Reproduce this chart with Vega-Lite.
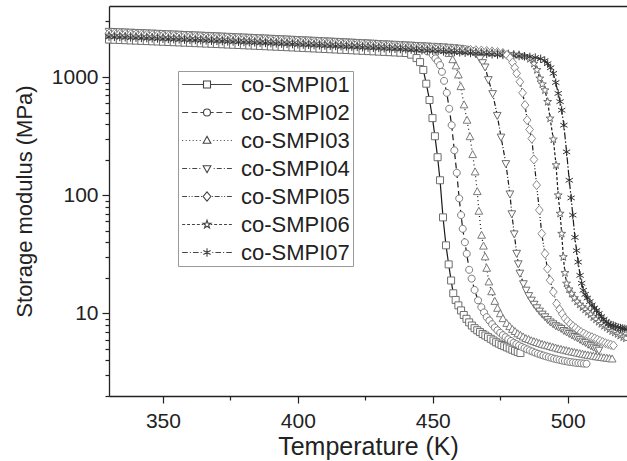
{
"$schema":"https://vega.github.io/schema/vega-lite/v6.json",
"width":518,"height":390,
"autosize":{"type":"none"},
"padding":{"left":109,"top":6,"right":0,"bottom":65},
"config":{"font":"Liberation Sans","view":{"stroke":null},"axis":{"grid":false}},
"datasets":{
"names":[{"k":"a","name":"co-SMPI01"},{"k":"b","name":"co-SMPI02"},{"k":"c","name":"co-SMPI03"},{"k":"d","name":"co-SMPI04"},{"k":"e","name":"co-SMPI05"},{"k":"f","name":"co-SMPI06"},{"k":"g","name":"co-SMPI07"}],
"dma":[
{"t":330,"a":2080,"b":2300,"c":2400,"d":2450,"e":2350,"f":2250,"g":2200},
{"t":332,"a":2071,"b":2291,"c":2390,"d":2440,"e":2340,"f":2241,"g":2191},
{"t":334,"a":2063,"b":2281,"c":2380,"d":2429,"e":2331,"f":2232,"g":2183},
{"t":336,"a":2054,"b":2272,"c":2370,"d":2419,"e":2321,"f":2223,"g":2174},
{"t":338,"a":2045,"b":2262,"c":2360,"d":2409,"e":2311,"f":2214,"g":2165},
{"t":340,"a":2036,"b":2253,"c":2350,"d":2398,"e":2302,"f":2206,"g":2156},
{"t":342,"a":2028,"b":2243,"c":2340,"d":2388,"e":2292,"f":2197,"g":2148},
{"t":344,"a":2019,"b":2234,"c":2330,"d":2377,"e":2283,"f":2188,"g":2139},
{"t":346,"a":2010,"b":2224,"c":2320,"d":2367,"e":2273,"f":2179,"g":2130},
{"t":348,"a":2002,"b":2215,"c":2310,"d":2357,"e":2263,"f":2170,"g":2122},
{"t":350,"a":1993,"b":2205,"c":2300,"d":2346,"e":2254,"f":2161,"g":2113},
{"t":352,"a":1984,"b":2196,"c":2290,"d":2336,"e":2244,"f":2152,"g":2104},
{"t":354,"a":1975,"b":2186,"c":2280,"d":2326,"e":2234,"f":2143,"g":2095},
{"t":356,"a":1967,"b":2177,"c":2270,"d":2315,"e":2225,"f":2134,"g":2087},
{"t":358,"a":1958,"b":2168,"c":2260,"d":2305,"e":2215,"f":2125,"g":2078},
{"t":360,"a":1949,"b":2158,"c":2250,"d":2295,"e":2205,"f":2117,"g":2069},
{"t":362,"a":1940,"b":2149,"c":2240,"d":2284,"e":2196,"f":2108,"g":2060},
{"t":364,"a":1932,"b":2139,"c":2230,"d":2274,"e":2186,"f":2099,"g":2052},
{"t":366,"a":1923,"b":2130,"c":2220,"d":2264,"e":2176,"f":2090,"g":2043},
{"t":368,"a":1914,"b":2120,"c":2210,"d":2253,"e":2167,"f":2081,"g":2034},
{"t":370,"a":1906,"b":2111,"c":2200,"d":2243,"e":2157,"f":2072,"g":2026},
{"t":372,"a":1897,"b":2101,"c":2190,"d":2232,"e":2148,"f":2063,"g":2017},
{"t":374,"a":1888,"b":2092,"c":2180,"d":2222,"e":2138,"f":2054,"g":2008},
{"t":376,"a":1879,"b":2082,"c":2170,"d":2212,"e":2128,"f":2045,"g":1999},
{"t":378,"a":1871,"b":2073,"c":2160,"d":2201,"e":2119,"f":2036,"g":1991},
{"t":380,"a":1862,"b":2064,"c":2150,"d":2191,"e":2109,"f":2028,"g":1982},
{"t":382,"a":1853,"b":2054,"c":2140,"d":2181,"e":2099,"f":2019,"g":1973},
{"t":384,"a":1845,"b":2045,"c":2130,"d":2170,"e":2090,"f":2010,"g":1965},
{"t":386,"a":1836,"b":2035,"c":2120,"d":2160,"e":2080,"f":2001,"g":1956},
{"t":388,"a":1827,"b":2026,"c":2110,"d":2150,"e":2070,"f":1992,"g":1947},
{"t":390,"a":1818,"b":2016,"c":2100,"d":2139,"e":2061,"f":1983,"g":1938},
{"t":392,"a":1810,"b":2007,"c":2090,"d":2129,"e":2051,"f":1974,"g":1930},
{"t":394,"a":1801,"b":1997,"c":2080,"d":2118,"e":2042,"f":1965,"g":1921},
{"t":396,"a":1792,"b":1988,"c":2070,"d":2108,"e":2032,"f":1956,"g":1912},
{"t":398,"a":1784,"b":1978,"c":2060,"d":2098,"e":2022,"f":1947,"g":1904},
{"t":400,"a":1775,"b":1969,"c":2050,"d":2087,"e":2013,"f":1939,"g":1895},
{"t":402,"a":1766,"b":1959,"c":2040,"d":2077,"e":2003,"f":1930,"g":1886},
{"t":404,"a":1757,"b":1950,"c":2030,"d":2067,"e":1993,"f":1921,"g":1877},
{"t":406,"a":1749,"b":1941,"c":2020,"d":2056,"e":1984,"f":1912,"g":1869},
{"t":408,"a":1740,"b":1931,"c":2010,"d":2046,"e":1974,"f":1903,"g":1860},
{"t":410,"a":1731,"b":1922,"c":2000,"d":2036,"e":1964,"f":1894,"g":1851},
{"t":412,"a":1722,"b":1912,"c":1990,"d":2025,"e":1955,"f":1885,"g":1842},
{"t":414,"a":1714,"b":1903,"c":1980,"d":2015,"e":1945,"f":1876,"g":1834},
{"t":416,"a":1705,"b":1893,"c":1970,"d":2005,"e":1935,"f":1867,"g":1825},
{"t":418,"a":1696,"b":1884,"c":1960,"d":1994,"e":1926,"f":1858,"g":1816},
{"t":420,"a":1688,"b":1874,"c":1950,"d":1984,"e":1916,"f":1850,"g":1808},
{"t":422,"a":1679,"b":1865,"c":1940,"d":1973,"e":1907,"f":1841,"g":1799},
{"t":424,"a":1670,"b":1855,"c":1930,"d":1963,"e":1897,"f":1832,"g":1790},
{"t":426,"a":1661,"b":1846,"c":1920,"d":1953,"e":1887,"f":1823,"g":1781},
{"t":428,"a":1653,"b":1836,"c":1910,"d":1942,"e":1878,"f":1814,"g":1773},
{"t":430,"a":1644,"b":1827,"c":1900,"d":1932,"e":1868,"f":1805,"g":1764},
{"t":432,"a":1635,"b":1818,"c":1890,"d":1922,"e":1858,"f":1796,"g":1755},
{"t":434,"a":1627,"b":1808,"c":1880,"d":1911,"e":1849,"f":1787,"g":1747},
{"t":436,"a":1618,"b":1799,"c":1870,"d":1901,"e":1839,"f":1778,"g":1738},
{"t":438,"a":1609,"b":1789,"c":1860,"d":1891,"e":1829,"f":1769,"g":1729},
{"t":440,"a":1600,"b":1780,"c":1850,"d":1880,"e":1820,"f":1760,"g":1720},
{"t":442,"a":1550,"b":1770,"c":1840,"d":1870,"e":1810,"f":1750,"g":1710},
{"t":444,"a":1450,"b":1750,"c":1830,"d":1860,"e":1800,"f":1740,"g":1700},
{"t":446,"b":1720,"c":1815,"d":1850,"e":1790,"f":1730,"g":1690},
{"t":448,"b":1650,"c":1800,"d":1840,"e":1780,"f":1720,"g":1680},
{"t":450,"b":1540,"c":1780,"d":1830,"e":1770,"f":1710,"g":1670},
{"t":452,"c":1750,"d":1820,"e":1760,"f":1700,"g":1660},
{"t":454,"c":1700,"d":1810,"e":1750,"f":1690,"g":1650},
{"t":456,"c":1580,"d":1795,"e":1740,"f":1680,"g":1640},
{"t":458,"d":1780,"e":1730,"f":1670,"g":1630},
{"t":460,"d":1760,"e":1720,"f":1660,"g":1620},
{"t":462,"d":1730,"e":1710,"f":1650,"g":1610},
{"t":464,"d":1680,"e":1700,"f":1640,"g":1600},
{"t":466,"d":1580,"e":1690,"f":1630,"g":1590},
{"t":468,"e":1680,"f":1620,"g":1580},
{"t":470,"e":1665,"f":1610,"g":1570},
{"t":472,"e":1650,"f":1600,"g":1560},
{"t":474,"e":1630,"f":1590,"g":1550},
{"t":476,"e":1600,"f":1580,"g":1540},
{"t":478,"f":1570,"g":1530},
{"t":480,"f":1555,"g":1520},
{"t":482,"f":1540,"g":1510},
{"t":484,"f":1500,"g":1500},
{"t":486,"f":1430,"g":1485},
{"t":488,"g":1465},
{"t":490,"g":1430},
{"t":445.3,"a":1340},{"t":446.5,"a":1150},{"t":447.6,"a":880},{"t":448.8,"a":640},{"t":449.9,"a":450},{"t":450.8,"a":316},{"t":451.8,"a":210},{"t":452.7,"a":134},{"t":453.8,"a":65},{"t":454.9,"a":37.7},{"t":455.9,"a":26},{"t":456.8,"a":19},{"t":457.6,"a":14.8},{"t":458.5,"a":13},{"t":459.5,"a":11.7},{"t":460.5,"a":10.6},{"t":461.5,"a":9.7},{"t":462.5,"a":9.0},{"t":463.5,"a":8.4},{"t":464.5,"a":7.9},{"t":465.5,"a":7.5},{"t":466.5,"a":7.2},{"t":467.5,"a":6.95},{"t":468.5,"a":6.7},{"t":469.5,"a":6.5},{"t":470.5,"a":6.3},{"t":471.5,"a":6.1},{"t":472.5,"a":5.9},{"t":473.5,"a":5.7},{"t":474.5,"a":5.55},{"t":475.5,"a":5.4},{"t":476.5,"a":5.28},{"t":477.5,"a":5.16},{"t":478.5,"a":5.05},{"t":479.5,"a":4.93},{"t":480.5,"a":4.82},{"t":481.5,"a":4.72},{"t":482.5,"a":4.62},
{"t":451,"b":1440},{"t":451.9,"b":1360},{"t":452.7,"b":1264},{"t":453.4,"b":1109},{"t":454.2,"b":930},{"t":455.2,"b":736},{"t":456.1,"b":540},{"t":457,"b":392},{"t":458,"b":240},{"t":458.9,"b":155},{"t":459.8,"b":94},{"t":460.5,"b":68},{"t":461.1,"b":52},{"t":461.9,"b":40},{"t":462.6,"b":32},{"t":463.5,"b":23.4},{"t":464.4,"b":19.7},{"t":465.5,"b":15.8},{"t":466.8,"b":12.9},{"t":468,"b":11.3},{"t":469,"b":10.2},{"t":470,"b":9.3},{"t":471,"b":8.7},{"t":472,"b":8.1},{"t":473,"b":7.6},{"t":474,"b":7.2},{"t":475,"b":6.85},{"t":476,"b":6.55},{"t":477,"b":6.3},{"t":478,"b":6.05},{"t":479,"b":5.85},{"t":480,"b":5.65},{"t":481,"b":5.5},{"t":482,"b":5.35},{"t":483,"b":5.2},{"t":484,"b":5.08},{"t":485,"b":4.96},{"t":486,"b":4.85},{"t":487,"b":4.75},{"t":488,"b":4.65},{"t":489,"b":4.56},{"t":490,"b":4.48},{"t":491,"b":4.4},{"t":492,"b":4.33},{"t":493,"b":4.26},{"t":494,"b":4.2},{"t":495,"b":4.14},{"t":496,"b":4.09},{"t":497,"b":4.04},{"t":498,"b":3.99},{"t":499,"b":3.95},{"t":500,"b":3.91},{"t":501,"b":3.88},{"t":502,"b":3.85},{"t":503,"b":3.82},{"t":504,"b":3.8},{"t":505,"b":3.78},{"t":506,"b":3.76},{"t":507,"b":3.75},
{"t":457.4,"c":1400},{"t":458.6,"c":1240},{"t":459.5,"c":1040},{"t":460.4,"c":828},{"t":461.6,"c":580},{"t":462.7,"c":430},{"t":463.8,"c":312},{"t":464.8,"c":220},{"t":465.7,"c":157},{"t":466.5,"c":107},{"t":467.1,"c":73},{"t":468.1,"c":45.7},{"t":468.8,"c":37},{"t":469.4,"c":30},{"t":470,"c":24},{"t":470.8,"c":18.4},{"t":471.8,"c":15.2},{"t":473,"c":12.6},{"t":474,"c":11},{"t":475,"c":9.9},{"t":476,"c":9.0},{"t":477.4,"c":8.2},{"t":478.5,"c":7.7},{"t":479.5,"c":7.3},{"t":480.5,"c":7.0},{"t":481.5,"c":6.7},{"t":482.5,"c":6.5},{"t":483.5,"c":6.3},{"t":484.5,"c":6.1},{"t":485.5,"c":6.0},{"t":486.5,"c":5.85},{"t":487.5,"c":5.75},{"t":488.5,"c":5.65},{"t":489.5,"c":5.55},{"t":490.5,"c":5.45},{"t":491.5,"c":5.37},{"t":492.5,"c":5.3},{"t":493.5,"c":5.22},{"t":494.5,"c":5.15},{"t":495.5,"c":5.08},{"t":496.5,"c":5.0},{"t":497.5,"c":4.94},{"t":498.5,"c":4.88},{"t":499.5,"c":4.82},{"t":500.5,"c":4.76},{"t":501.5,"c":4.7},{"t":502.5,"c":4.65},{"t":503.5,"c":4.6},{"t":504.5,"c":4.55},{"t":505.5,"c":4.5},{"t":506.5,"c":4.45},{"t":507.5,"c":4.41},{"t":508.5,"c":4.37},{"t":509.5,"c":4.33},{"t":510.5,"c":4.29},{"t":511.5,"c":4.25},{"t":512.5,"c":4.22},{"t":513.5,"c":4.19},{"t":514.5,"c":4.16},{"t":515.5,"c":4.13},{"t":516.5,"c":4.1},
{"t":467.5,"d":1440},{"t":468.5,"d":1330},{"t":469.4,"d":1223},{"t":470.6,"d":956},{"t":472.2,"d":728},{"t":473.9,"d":476},{"t":475.3,"d":312},{"t":477.1,"d":186},{"t":478.6,"d":103},{"t":479.3,"d":70},{"t":480.2,"d":47.3},{"t":481.1,"d":32.4},{"t":481.7,"d":26.4},{"t":482.3,"d":22},{"t":483.6,"d":17.9},{"t":484.6,"d":15.8},{"t":485.6,"d":14.2},{"t":486.6,"d":13},{"t":487.6,"d":12},{"t":488.6,"d":11.2},{"t":489.6,"d":10.5},{"t":490.6,"d":9.9},{"t":491.6,"d":9.4},{"t":492.6,"d":8.9},{"t":493.6,"d":8.5},{"t":494.6,"d":8.2},{"t":495.6,"d":7.9},{"t":496.6,"d":7.7},{"t":497.6,"d":7.5},{"t":498.6,"d":7.2},{"t":499.6,"d":7.0},{"t":500.6,"d":6.8},{"t":501.6,"d":6.6},{"t":502.6,"d":6.4},{"t":503.6,"d":6.25},{"t":504.6,"d":6.05},{"t":505.6,"d":5.85},{"t":506.6,"d":5.7},{"t":507.6,"d":5.5},{"t":508.6,"d":5.35},{"t":509.6,"d":5.2},{"t":510.6,"d":5.05},{"t":511.6,"d":4.9},
{"t":477.5,"e":1540},{"t":478.7,"e":1450},{"t":479.6,"e":1330},{"t":480.4,"e":1200},{"t":481.1,"e":1075},{"t":482.3,"e":913},{"t":483.3,"e":736},{"t":484.2,"e":580},{"t":485,"e":433},{"t":485.9,"e":360},{"t":486.7,"e":302},{"t":487.5,"e":201},{"t":488.5,"e":122},{"t":489.5,"e":75},{"t":490.4,"e":47.3},{"t":491.6,"e":32},{"t":492.5,"e":23.9},{"t":493.5,"e":19.1},{"t":494.7,"e":15.2},{"t":495.9,"e":12.1},{"t":497,"e":10.8},{"t":498,"e":9.9},{"t":499,"e":9.1},{"t":500,"e":8.6},{"t":501,"e":8.15},{"t":502,"e":7.8},{"t":503,"e":7.5},{"t":504,"e":7.2},{"t":505,"e":6.95},{"t":506,"e":6.75},{"t":507,"e":6.55},{"t":508,"e":6.4},{"t":509,"e":6.28},{"t":510,"e":6.15},{"t":511,"e":6.0},{"t":512,"e":5.85},{"t":513,"e":5.72},{"t":514,"e":5.6},{"t":515,"e":5.5},{"t":516,"e":5.42},{"t":517,"e":5.35},
{"t":487.5,"f":1300},{"t":488.6,"f":1150},{"t":489.7,"f":975},{"t":490.6,"f":870},{"t":491.6,"f":775},{"t":492.6,"f":618},{"t":493.5,"f":447},{"t":494.7,"f":297},{"t":495.7,"f":180},{"t":496.5,"f":100},{"t":497.2,"f":70},{"t":497.8,"f":47.3},{"t":498.4,"f":30},{"t":499,"f":22},{"t":499.6,"f":17.9},{"t":500.5,"f":16},{"t":501.5,"f":14.7},{"t":502.5,"f":13.5},{"t":503.5,"f":12.6},{"t":504.5,"f":11.9},{"t":505.5,"f":11.3},{"t":506.5,"f":10.8},{"t":507.5,"f":10.3},{"t":508.5,"f":9.8},{"t":509.5,"f":9.3},{"t":510.5,"f":8.9},{"t":511.5,"f":8.5},{"t":512.5,"f":8.15},{"t":513.5,"f":7.85},{"t":514.5,"f":7.6},{"t":515.5,"f":7.35},{"t":516.5,"f":7.1},{"t":517.5,"f":6.9},{"t":518.5,"f":6.7},{"t":519.5,"f":6.5},{"t":520.6,"f":6.3},{"t":521.6,"f":6.15},
{"t":491.5,"g":1380},{"t":492.6,"g":1300},{"t":493.7,"g":1200},{"t":494.7,"g":1075},{"t":495.6,"g":900},{"t":496.5,"g":728},{"t":497.2,"g":620},{"t":497.8,"g":525},{"t":498.6,"g":392},{"t":499.6,"g":233},{"t":500.6,"g":134},{"t":501.3,"g":95},{"t":501.9,"g":68},{"t":502.7,"g":44},{"t":503.3,"g":34},{"t":503.9,"g":27.2},{"t":504.6,"g":21},{"t":505.2,"g":18},{"t":505.8,"g":15.7},{"t":506.5,"g":14.5},{"t":507.3,"g":13.5},{"t":508.2,"g":12.6},{"t":509,"g":11.8},{"t":509.9,"g":11.1},{"t":510.7,"g":10.6},{"t":511.6,"g":10.0},{"t":512.5,"g":9.4},{"t":513.4,"g":8.9},{"t":514.3,"g":8.5},{"t":515.2,"g":8.2},{"t":516,"g":8.0},{"t":516.9,"g":7.9},{"t":517.8,"g":7.75},{"t":518.7,"g":7.62},{"t":519.6,"g":7.52},{"t":520.4,"g":7.45},{"t":521.2,"g":7.4},{"t":522,"g":7.35}
]},
"layer":[
{"data":{"name":"dma"},
"transform":[{"fold":["a","b","c","d","e","f","g"],"as":["k","v"]},{"filter":"isValid(datum.v)"},{"lookup":"k","from":{"data":{"name":"names"},"key":"k","fields":["name"]}}],
"mark":{"type":"line","color":"#1a1a1a","strokeWidth":1.2},
"encoding":{
"x":{"field":"t","type":"quantitative","scale":{"domain":[330,522],"nice":false,"zero":false},"axis":{"orient":"top","labels":false,"ticks":false,"title":null,"domainColor":"#222","domainWidth":1.3}},
"y":{"field":"v","type":"quantitative","scale":{"type":"log","domain":[2,4000],"nice":false},"axis":{"title":"Storage modulus (MPa)","values":[2,3,4,5,6,7,8,9,10,20,30,40,50,60,70,80,90,100,200,300,400,500,600,700,800,900,1000,2000,3000],"labelExpr":"(datum.value == 10 || datum.value == 100 || datum.value == 1000) ? '' + datum.value : ''","tickSize":{"condition":{"test":"datum.value == 10 || datum.value == 100 || datum.value == 1000","value":7},"value":4},"tickColor":"#222","tickWidth":1.2,"domainColor":"#222","domainWidth":1.3,"labelFontSize":21,"labelColor":"#222","labelPadding":4,"labelOverlap":false,"labelFlush":false,"titleFontSize":22,"titleFontWeight":"normal","titleColor":"#222","titlePadding":15}},
"strokeDash":{"field":"name","type":"nominal","scale":{"domain":["co-SMPI01","co-SMPI02","co-SMPI03","co-SMPI04","co-SMPI05","co-SMPI06","co-SMPI07"],"range":[[1,0],[6,3.5],[1,3],[5,2,1,2],[5,2,1,2,1,2],[3,2],[7,2,1.5,2]]},"legend":null}
}},
{"data":{"name":"dma"},
"transform":[{"fold":["a","b","c","d","e","f","g"],"as":["k","v"]},{"filter":"isValid(datum.v)"},{"lookup":"k","from":{"data":{"name":"names"},"key":"k","fields":["name"]}}],
"mark":{"type":"point","filled":true,"fill":"white","strokeWidth":1,"size":49,"opacity":1},
"encoding":{
"x":{"field":"t","type":"quantitative","scale":{"domain":[330,522],"nice":false,"zero":false},"axis":{"title":"Temperature (K)","values":[350,375,400,425,450,475,500],"labelExpr":"datum.value % 50 == 0 ? datum.label : ''","tickSize":{"condition":{"test":"datum.value % 50 == 0","value":7},"value":4},"tickColor":"#222","tickWidth":1.2,"domainColor":"#222","domainWidth":1.3,"labelFontSize":21,"labelColor":"#222","labelPadding":7,"labelOverlap":false,"labelFlush":false,"titleFontSize":25,"titleFontWeight":"normal","titleColor":"#222","titlePadding":3}},
"y":{"field":"v","type":"quantitative","scale":{"type":"log","domain":[2,4000],"nice":false},"axis":{"title":"Storage modulus (MPa)","values":[2,3,4,5,6,7,8,9,10,20,30,40,50,60,70,80,90,100,200,300,400,500,600,700,800,900,1000,2000,3000],"labelExpr":"(datum.value == 10 || datum.value == 100 || datum.value == 1000) ? '' + datum.value : ''","tickSize":{"condition":{"test":"datum.value == 10 || datum.value == 100 || datum.value == 1000","value":7},"value":4},"tickColor":"#222","tickWidth":1.2,"domainColor":"#222","domainWidth":1.3,"labelFontSize":21,"labelColor":"#222","labelPadding":4,"labelOverlap":false,"labelFlush":false,"titleFontSize":22,"titleFontWeight":"normal","titleColor":"#222","titlePadding":15}},
"shape":{"field":"name","type":"nominal","scale":{"domain":["co-SMPI01","co-SMPI02","co-SMPI03","co-SMPI04","co-SMPI05","co-SMPI06","co-SMPI07"],"range":["M-1,-1H1V1H-1Z","M1,0A1,1 0 1,1 -1,0A1,1 0 1,1 1,0Z","M0,-1.2L1.1,0.8H-1.1Z","M0,1.2L1.1,-0.8H-1.1Z","M0,-1.3L1.1,0L0,1.3L-1.1,0Z","M0,-1.2L0.282,-0.388L1.141,-0.371L0.456,0.148L0.705,0.971L0,0.48L-0.705,0.971L-0.456,0.148L-1.141,-0.371L-0.282,-0.388Z","M0,-1.2V1.2M-1.04,-0.6L1.04,0.6M-1.04,0.6L1.04,-0.6"]},"legend":null},
"stroke":{"field":"name","type":"nominal","scale":{"domain":["co-SMPI01","co-SMPI02","co-SMPI03","co-SMPI04","co-SMPI05","co-SMPI06","co-SMPI07"],"range":["#6e6e6e","#7a7a7a","#7a7a7a","#6e6e6e","#8a8a8a","#6e6e6e","#333333"]},"legend":null}
}},
{"data":{"name":"names"},
"mark":{"type":"point","opacity":0,"size":49},
"encoding":{
"shape":{"field":"name","type":"nominal","scale":{"domain":["co-SMPI01","co-SMPI02","co-SMPI03","co-SMPI04","co-SMPI05","co-SMPI06","co-SMPI07"],"range":[
"M-7.1,0H-1M1,0H7.1M-1,-1H1V1H-1Z",
"M-7.1,0H-5.4M-4.4,0H-2.7M-1.9,0H-1M1,0H1.9M2.7,0H4.4M5.4,0H7.1M1,0A1,1 0 1,1 -1,0A1,1 0 1,1 1,0Z",
"M-7.1,0h0.3M-6.1,0h0.3M-5.1,0h0.3M-4.1,0h0.3M-3.1,0h0.3M-2.1,0h0.3M1.8,0h0.3M2.8,0h0.3M3.8,0h0.3M4.8,0h0.3M5.8,0h0.3M6.8,0h0.3M0,-1.2L1.1,0.8H-1.1Z",
"M-7.1,0H-5.7M-5.1,0h0.3M-4.2,0H-2.8M-2.2,0h0.3M1.9,0h0.3M2.8,0H4.2M4.8,0h0.3M5.7,0H7.1M0,1.2L1.1,-0.8H-1.1Z",
"M-7.1,0H-5.7M-5.2,0h0.3M-4.4,0h0.3M-3.6,0H-2.2M-1.7,0h0.3M1.4,0h0.3M2.2,0H3.6M4.1,0h0.3M4.9,0h0.3M5.7,0H7.1M0,-1.3L1.1,0L0,1.3L-1.1,0Z",
"M-7.1,0H-6.25M-5.7,0H-4.85M-4.3,0H-3.45M-2.9,0H-2.05M-1.5,0H-1.1M1.1,0H1.5M2.05,0H2.9M3.45,0H4.3M4.85,0H5.7M6.25,0H7.1M0,-1.2L0.282,-0.388L1.141,-0.371L0.456,0.148L0.705,0.971L0,0.48L-0.705,0.971L-0.456,0.148L-1.141,-0.371L-0.282,-0.388Z",
"M-7.1,0H-5.5M-4.9,0h0.3M-4,0H-2.4M-1.8,0h0.3M1.5,0h0.3M2.4,0H4M4.6,0h0.3M5.5,0H7.1M0,-1.2V1.2M-1.04,-0.6L1.04,0.6M-1.04,0.6L1.04,-0.6"]},
"legend":{"orient":"none","legendX":69,"legendY":65,"title":null,"labelFontSize":22,"labelColor":"#222","labelOffset":23,"symbolOffset":15.5,"symbolSize":49,"symbolStrokeWidth":1.1,"symbolStrokeColor":"#444","symbolFillColor":"white","strokeColor":"#999","fillColor":"white","padding":2.5,"rowPadding":6,
"encode":{"symbols":{"update":{"opacity":{"value":1},"fill":{"value":"white"},"stroke":{"value":"#444"},"strokeWidth":{"value":1.1}}}}}}
}}
],
"resolve":{"scale":{"shape":"independent"},"axis":{"x":"independent"}}
}
